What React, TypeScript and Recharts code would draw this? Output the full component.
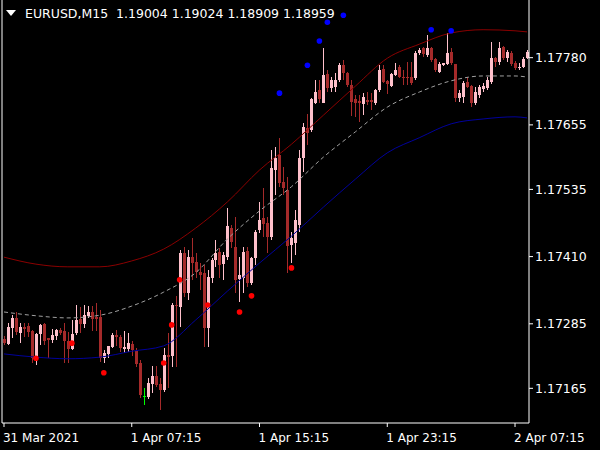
import { ComposedChart, Bar, Line, XAxis, YAxis } from 'recharts';

// EURUSD M15, one entry per bar (index 0 = first visible bar)
const opens = [
  1.17257, 1.17248, 1.17277, 1.17296, 1.17268, 1.17279, 1.17281, 1.17272, 1.17221, 1.17266,
  1.17285, 1.17259, 1.17255, 1.17262, 1.17274, 1.17272, 1.17253, 1.17238, 1.17268, 1.17294,
  1.17285, 1.173, 1.17307, 1.17298, 1.17298, 1.17221, 1.17229, 1.17242, 1.17264, 1.17261,
  1.17238, 1.17238, 1.17248, 1.17234, 1.17212, 1.17151, 1.17149, 1.17173, 1.17188, 1.17173,
  1.17162, 1.17227, 1.17225, 1.1732, 1.17316, 1.17417, 1.17342, 1.17409, 1.174, 1.17381,
  1.1738, 1.17277, 1.1737, 1.17404, 1.17419, 1.17396, 1.17409, 1.17463, 1.17428, 1.17368,
  1.1737, 1.1742, 1.17361, 1.17407, 1.1746, 1.17482, 1.17473, 1.17447, 1.17571, 1.17599,
  1.17549, 1.17534, 1.17432, 1.17435, 1.17469, 1.17593, 1.17649, 1.17646, 1.17696, 1.1772,
  1.17696, 1.1775, 1.17724, 1.17726, 1.17739, 1.17766, 1.17752, 1.17729, 1.17703, 1.17699,
  1.17694, 1.17701, 1.17701, 1.17696, 1.1772, 1.17759, 1.17737, 1.17727, 1.17748, 1.17763,
  1.17744, 1.17744, 1.17744, 1.17742, 1.17789, 1.17798, 1.17785, 1.17798, 1.17778, 1.17753,
  1.17766, 1.17768, 1.17791, 1.17768, 1.17705, 1.17707, 1.17735, 1.17727, 1.17696, 1.17711,
  1.17722, 1.17724, 1.17735, 1.17779, 1.17772, 1.178, 1.17779, 1.17789, 1.1777, 1.17761,
  1.17763, 1.17779,
];
const highs = [
  1.17262, 1.17287, 1.17301, 1.17307, 1.17287, 1.17287, 1.17287, 1.17274, 1.17268, 1.17285,
  1.17287, 1.17259, 1.17275, 1.17275, 1.17277, 1.17287, 1.1727, 1.17292, 1.1732, 1.17316,
  1.1732, 1.17318, 1.17318, 1.17324, 1.17311, 1.17236, 1.17244, 1.17268, 1.17274, 1.17264,
  1.17272, 1.17268, 1.17253, 1.1724, 1.17218, 1.17166, 1.17184, 1.17207, 1.17207, 1.17184,
  1.1724, 1.17268, 1.17324, 1.17337, 1.17422, 1.17428, 1.17422, 1.17445, 1.17417, 1.17398,
  1.17394, 1.17385, 1.17407, 1.17441, 1.17426, 1.17419, 1.175, 1.17469, 1.17484, 1.17409,
  1.17428, 1.17428, 1.17409, 1.1746, 1.17512, 1.17538, 1.17484, 1.17608, 1.17614, 1.17631,
  1.17577, 1.17558, 1.17456, 1.17497, 1.17608, 1.17659, 1.17675, 1.17705, 1.17739, 1.17739,
  1.17798, 1.17757, 1.17744, 1.17752, 1.1777, 1.17776, 1.17753, 1.17739, 1.17711, 1.17711,
  1.17714, 1.17716, 1.17714, 1.17722, 1.17766, 1.17766, 1.17739, 1.17752, 1.1777, 1.17766,
  1.17757, 1.17772, 1.17772, 1.17792, 1.17798, 1.178, 1.17822, 1.178, 1.17779, 1.17772,
  1.1777, 1.17826, 1.17798, 1.17768, 1.1772, 1.17737, 1.17744, 1.17729, 1.17726, 1.17729,
  1.17733, 1.17744, 1.17809, 1.17781, 1.17809, 1.17802, 1.17794, 1.17792, 1.17774, 1.1777,
  1.17781, 1.17794,
];
const lows = [
  1.17246, 1.17246, 1.17259, 1.17264, 1.17249, 1.17261, 1.17261, 1.17212, 1.17208, 1.17246,
  1.17246, 1.17221, 1.17249, 1.17255, 1.17264, 1.17212, 1.17212, 1.17236, 1.17264, 1.17268,
  1.17277, 1.17296, 1.17272, 1.17272, 1.17214, 1.17212, 1.17221, 1.1724, 1.17244, 1.17233,
  1.17231, 1.17233, 1.17225, 1.17205, 1.17147, 1.17134, 1.17145, 1.17156, 1.17168, 1.17125,
  1.17158, 1.17166, 1.17205, 1.17205, 1.17279, 1.17335, 1.17329, 1.17367, 1.1737, 1.17348,
  1.17242, 1.17242, 1.17361, 1.17391, 1.1737, 1.17367, 1.17404, 1.17426, 1.17342, 1.17326,
  1.17342, 1.17354, 1.17357, 1.17394, 1.17454, 1.17447, 1.17417, 1.17441, 1.17525, 1.1754,
  1.17525, 1.1738, 1.17398, 1.17413, 1.17456, 1.17567, 1.17618, 1.17642, 1.17694, 1.17696,
  1.17696, 1.17716, 1.17716, 1.17716, 1.17735, 1.17739, 1.17726, 1.17672, 1.1767, 1.1766,
  1.17673, 1.17692, 1.17683, 1.17692, 1.17716, 1.17733, 1.17713, 1.17726, 1.17746, 1.17742,
  1.17729, 1.17729, 1.17729, 1.17739, 1.17785, 1.17781, 1.17781, 1.17772, 1.17753, 1.17752,
  1.17765, 1.17766, 1.17766, 1.17698, 1.17698, 1.17696, 1.17724, 1.17688, 1.17692, 1.17705,
  1.17716, 1.1772, 1.17731, 1.17763, 1.17766, 1.17776, 1.17772, 1.17765, 1.17757, 1.17757,
  1.17761, 1.17778,
];
const closes = [
  1.17249, 1.17279, 1.17296, 1.1727, 1.17279, 1.17275, 1.1727, 1.17221, 1.17266, 1.17283,
  1.17253, 1.17255, 1.17264, 1.17274, 1.17268, 1.17253, 1.17238, 1.17266, 1.17292, 1.17285,
  1.17301, 1.17307, 1.17294, 1.17294, 1.17221, 1.17231, 1.17244, 1.17264, 1.17261, 1.1724,
  1.17242, 1.17249, 1.17236, 1.1721, 1.17153, 1.17151, 1.17175, 1.17188, 1.17171, 1.17162,
  1.17227, 1.17223, 1.1732, 1.17318, 1.17417, 1.17342, 1.17409, 1.17398, 1.17381, 1.17376,
  1.17277, 1.17372, 1.17404, 1.17417, 1.17394, 1.17413, 1.17467, 1.17437, 1.17367, 1.17376,
  1.17419, 1.17361, 1.17407, 1.17456, 1.17478, 1.17471, 1.17447, 1.17575, 1.17593, 1.17547,
  1.17538, 1.1743, 1.17445, 1.17478, 1.17593, 1.17651, 1.1764, 1.17703, 1.17716, 1.17703,
  1.17748, 1.17724, 1.17739, 1.17739, 1.17766, 1.17752, 1.17729, 1.17698, 1.17696, 1.17696,
  1.17707, 1.17698, 1.17698, 1.1772, 1.17757, 1.17735, 1.17731, 1.1775, 1.17757, 1.17744,
  1.17742, 1.17742, 1.17733, 1.17789, 1.17794, 1.17787, 1.17798, 1.17776, 1.17757, 1.17768,
  1.1777, 1.17789, 1.1777, 1.17705, 1.17714, 1.17733, 1.17726, 1.17696, 1.17716, 1.17726,
  1.17727, 1.17739, 1.17779, 1.17772, 1.17798, 1.17779, 1.17791, 1.17768, 1.17761, 1.17763,
  1.17778, 1.17791,
];

// envelope bands, read every 8th bar
const bandIdx = [0, 8, 16, 24, 32, 40, 48, 56, 64, 72, 80, 88, 96, 104, 112, 120, 128, 131];
const upperBand = [
  1.17409, 1.17396, 1.17391, 1.17391, 1.17402, 1.17424, 1.17463, 1.17512, 1.17571,
  1.17619, 1.17673, 1.17727, 1.17779, 1.17805, 1.17826, 1.17832, 1.1783, 1.17828,
];
const middleBand = [
  1.17307, 1.173, 1.17296, 1.17301, 1.17318, 1.17344, 1.1738, 1.17443, 1.17495,
  1.1754, 1.17595, 1.17642, 1.17688, 1.17716, 1.17737, 1.17746, 1.17746, 1.17744,
];
const lowerBand = [
  1.17229, 1.17223, 1.1722, 1.17223, 1.17234, 1.17244, 1.17292, 1.17346, 1.17398,
  1.17448, 1.17502, 1.17554, 1.17603, 1.17631, 1.17657, 1.17666, 1.1767, 1.17668,
];

// signal dots
const sellIdx = [69, 76, 79, 81, 85, 107, 112];
const sellPrice = [1.17714, 1.17766, 1.17811, 1.17846, 1.17859, 1.17832, 1.1783];
const buyIdx = [8, 17, 25, 40, 42, 44, 51, 59, 62, 72];
const buyPrice = [1.17221, 1.17249, 1.17194, 1.17212, 1.17283, 1.17367, 1.1732, 1.17307, 1.17337, 1.17389];

const timeTicks = [0, 32, 64, 96, 128];
const timeLabels = ['31 Mar 2021', '1 Apr 07:15', '1 Apr 15:15', '1 Apr 23:15', '2 Apr 07:15'];
const priceTicks = [1.17165, 1.17285, 1.1741, 1.17535, 1.17655, 1.1778];

const pick = (idx: number[], vals: number[], i: number) => {
  const k = idx.indexOf(i);
  return k >= 0 ? vals[k] : null;
};

const rows = opens.map((o, i) => ({
  i,
  open: o,
  high: highs[i],
  low: lows[i],
  close: closes[i],
  range: [lows[i], highs[i]],
  upper: pick(bandIdx, upperBand, i),
  middle: pick(bandIdx, middleBand, i),
  lower: pick(bandIdx, lowerBand, i),
  sell: pick(sellIdx, sellPrice, i),
  buy: pick(buyIdx, buyPrice, i),
}));

const FONT = 'DejaVu Sans, sans-serif';

function Candle(props: any) {
  const { x, y, width, height, payload } = props;
  if (x == null || y == null || !payload) return <g />;
  const { open, close, high, low } = payload;
  const top = Math.min(y, y + height);
  const h = Math.abs(height);
  const py = (v: number) => (high === low ? top : top + ((high - v) / (high - low)) * h);
  const cx = Math.round(x + width / 2);
  const color = open === close ? '#00ff00' : close > open ? '#ffc0cb' : '#a52a2a';
  const wTop = Math.round(py(high));
  const wBot = Math.round(py(low));
  const bTop = Math.round(py(Math.max(open, close)));
  const bBot = Math.max(Math.round(py(Math.min(open, close))), bTop + 1);
  return (
    <g shapeRendering="crispEdges">
      <rect x={cx} y={wTop} width={1} height={Math.max(1, wBot - wTop)} fill={color} />
      <rect x={cx - 1} y={bTop} width={3} height={bBot - bTop} fill={color} />
    </g>
  );
}

const signalDot = (color: string) => (props: any) => {
  const { cx, cy, index } = props;
  if (!Number.isFinite(cx) || !Number.isFinite(cy)) return <g key={index} />;
  return <circle key={index} cx={cx} cy={cy} r={2.8} fill={color} />;
};

function TimeTick(props: any) {
  const { x, y, payload } = props;
  const k = timeTicks.indexOf(payload.value);
  return (
    <text x={x - 1} y={y} dy={13} fill="#fff" fontSize={12} fontFamily={FONT} textAnchor="start">
      {k >= 0 ? timeLabels[k] : ''}
    </text>
  );
}

function PriceTick(props: any) {
  const { x, y, payload } = props;
  return (
    <text x={x} y={y} dy={4.5} fill="#fff" fontSize={12.5} fontFamily={FONT} textAnchor="start">
      {Number(payload.value).toFixed(5)}
    </text>
  );
}

export default function App() {
  return (
    <div style={{ position: 'absolute', left: 0, top: 0, width: 600, height: 450, background: '#000' }}>
      <ComposedChart width={600} height={450} data={rows} margin={{ top: 0, right: 0, bottom: 0, left: 0 }}>
        <XAxis
          dataKey="i"
          type="category"
          height={27}
          ticks={timeTicks}
          interval={0}
          tick={(p: any) => <TimeTick {...p} />}
          tickSize={4}
          tickLine={{ stroke: '#fff' }}
          axisLine={{ stroke: '#fff' }}
        />
        <YAxis
          yAxisId="p"
          orientation="right"
          width={71}
          type="number"
          domain={[1.171005, 1.178873]}
          allowDataOverflow
          ticks={priceTicks}
          interval={0}
          tick={(p: any) => <PriceTick {...p} />}
          tickSize={4}
          tickLine={{ stroke: '#fff' }}
          axisLine={{ stroke: '#fff' }}
        />
        <YAxis yAxisId="frame" orientation="left" width={2} domain={[0, 1]} tick={false} tickLine={false} axisLine={{ stroke: '#fff' }} />
        <Bar yAxisId="p" dataKey="range" shape={(p: any) => <Candle {...p} />} isAnimationActive={false} />
        <Line yAxisId="p" dataKey="upper" type="monotone" connectNulls stroke="#8b0000" strokeWidth={1} dot={false} activeDot={false} isAnimationActive={false} />
        <Line yAxisId="p" dataKey="middle" type="monotone" connectNulls stroke="#a0a0a0" strokeWidth={1} strokeDasharray="4 3" dot={false} activeDot={false} isAnimationActive={false} />
        <Line yAxisId="p" dataKey="lower" type="monotone" connectNulls stroke="#00009c" strokeWidth={1} dot={false} activeDot={false} isAnimationActive={false} />
        <Line yAxisId="p" dataKey="sell" stroke="none" dot={signalDot('#0000ff')} activeDot={false} isAnimationActive={false} />
        <Line yAxisId="p" dataKey="buy" stroke="none" dot={signalDot('#ff0000')} activeDot={false} isAnimationActive={false} />
      </ComposedChart>
      <div
        style={{
          position: 'absolute', left: 6, top: 10, width: 0, height: 0,
          borderLeft: '5px solid transparent', borderRight: '5px solid transparent', borderTop: '6px solid #fff',
        }}
      />
      <div
        style={{
          position: 'absolute', left: 25, top: 7, color: '#fff', fontFamily: FONT, fontSize: 12.5,
          lineHeight: '14px', whiteSpace: 'pre',
        }}
      >
        {'EURUSD,M15  1.19004 1.19024 1.18909 1.18959'}
      </div>
    </div>
  );
}
